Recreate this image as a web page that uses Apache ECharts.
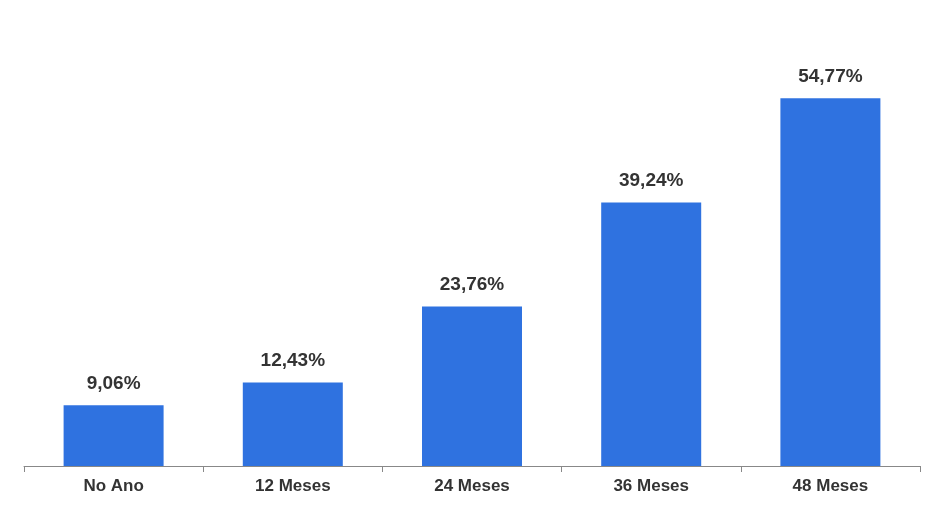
<!DOCTYPE html>
<html>
<head>
<meta charset="UTF-8">
<script src="https://cdn.jsdelivr.net/npm/echarts@6/dist/echarts.min.js"></script>
</head>
<body style="margin:0">
<div id="main" style="width:944px;height:516px;"></div>
<script>
  var categories = ['No Ano', '12 Meses', '24 Meses', '36 Meses', '48 Meses'];
  var values = [9.06, 12.43, 23.76, 39.24, 54.77];

  var chart = echarts.init(document.getElementById('main'));
  chart.setOption({
    animation: false,
    grid: { left: 24, right: 24, top: 63, bottom: 50 },
    xAxis: {
      type: 'category',
      data: categories,
      axisLine: { lineStyle: { color: '#888' } },
      axisTick: { show: true, length: 6, lineStyle: { color: '#888' } },
      axisLabel: { color: '#333', fontSize: 17, fontWeight: 'bold', fontFamily: 'Liberation Sans', margin: 12 }
    },
    yAxis: { type: 'value', min: 0, max: 60, show: false },
    series: [{
      type: 'bar',
      data: values,
      barWidth: 100,
      itemStyle: { color: '#2F72E0' },
      label: {
        show: true,
        position: 'top',
        distance: 12,
        color: '#333',
        fontSize: 19,
        fontWeight: 'bold',
        fontFamily: 'Liberation Sans',
        formatter: function (p) { return p.value.toFixed(2).replace('.', ',') + '%'; }
      }
    }]
  });
</script>
</body>
</html>
